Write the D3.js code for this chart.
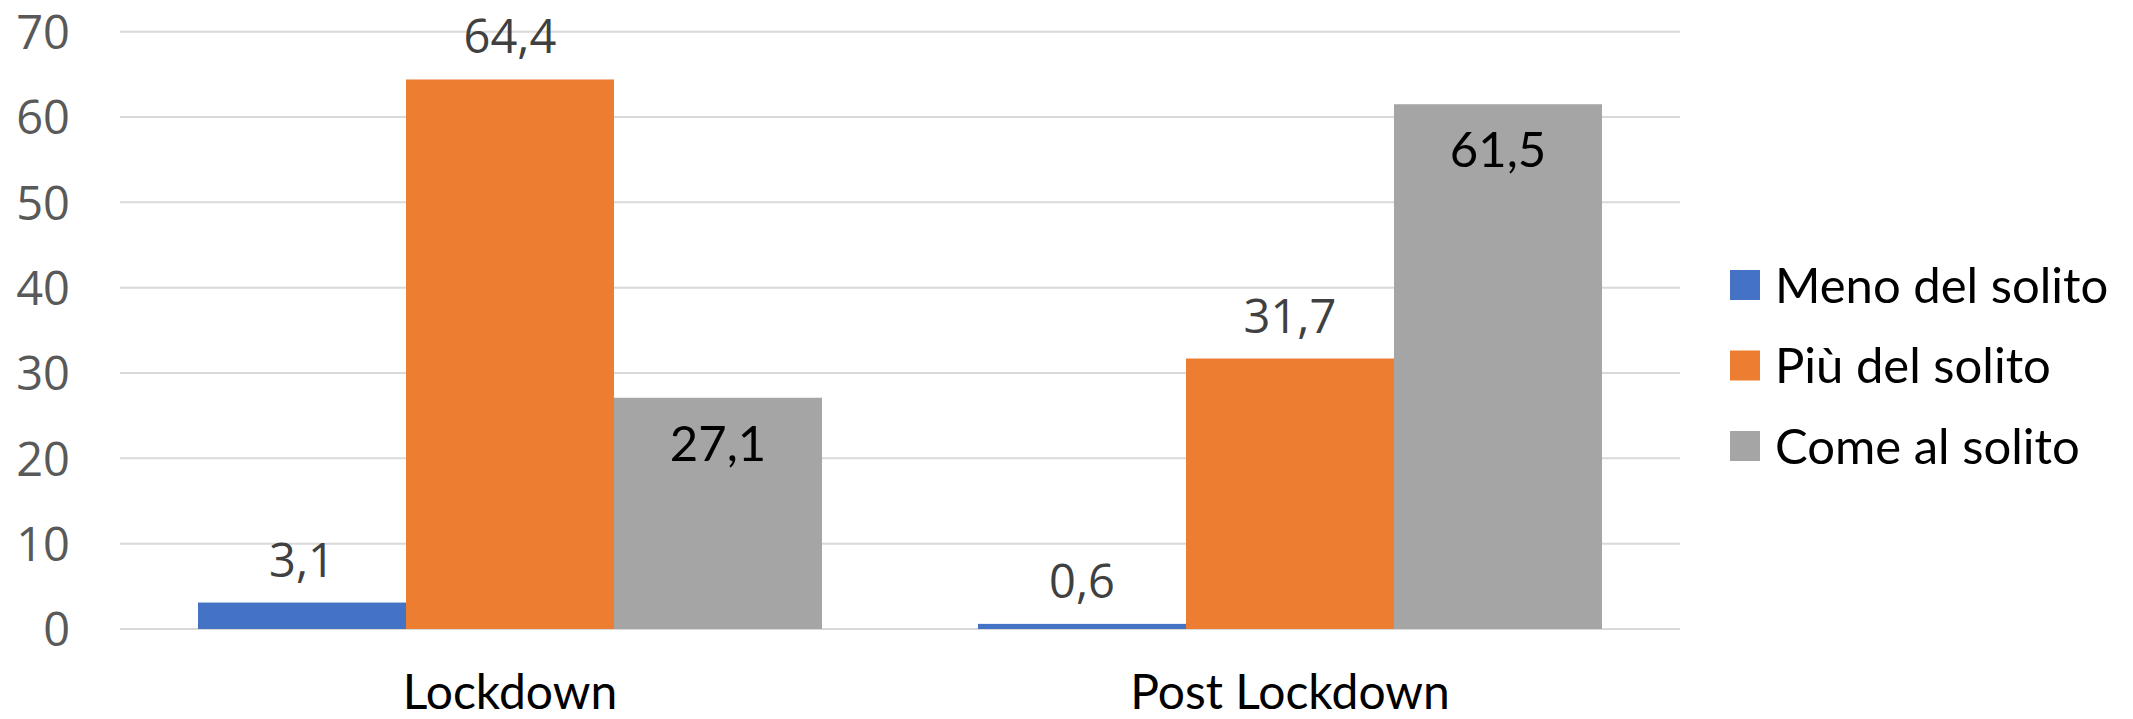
<!DOCTYPE html>
<html>
<head>
<meta charset="utf-8">
<script src="https://cdn.jsdelivr.net/npm/d3@7/dist/d3.min.js"></script>
<style>
  html, body { margin: 0; padding: 0; background: #ffffff; }
  svg { display: block; }
</style>
</head>
<body>
<svg id="chart" width="2133" height="719"></svg>
<script>
// Categories and series
const categories = ["Lockdown", "Post Lockdown"];
const seriesNames = ["Meno del solito", "Più del solito", "Come al solito"];
const seriesColors = ["#4472C4", "#ED7D31", "#A5A5A5"];
const menoValues = [3.1, 0.6];
const piuValues = [64.4, 31.7];
const comeValues = [27.1, 61.5];
const yTicks = [0, 10, 20, 30, 40, 50, 60, 70];

const seriesValues = [menoValues, piuValues, comeValues];
// Labels for the tallest bar in each group sit inside its top end
const insideLabel = [[false, false, true], [false, false, true]];

const svg = d3.select("#chart");
const plot = { left: 120, right: 1680, top: 31.7, bottom: 629 };

const x0 = d3.scaleBand()
  .domain(categories)
  .range([plot.left, plot.right])
  .paddingInner(0.2)
  .paddingOuter(0.1);

const x1 = d3.scaleBand()
  .domain(d3.range(seriesNames.length))
  .range([0, x0.bandwidth()])
  .padding(0);

const y = d3.scaleLinear()
  .domain([0, 70])
  .range([plot.bottom, plot.top]);

const fmt = v => d3.format(".1f")(v).replace(".", ",");

// Horizontal grid lines
svg.append("g")
  .selectAll("line")
  .data(yTicks)
  .join("line")
  .attr("x1", plot.left)
  .attr("x2", plot.right)
  .attr("y1", d => y(d))
  .attr("y2", d => y(d))
  .attr("stroke", "#d9d9d9")
  .attr("stroke-width", 2);

// Y axis labels
const yAxis = d3.axisLeft(y).tickValues(yTicks).tickSize(0).tickPadding(0);
const yg = svg.append("g")
  .attr("transform", "translate(70,0)")
  .call(yAxis);
yg.select(".domain").remove();
yg.selectAll("text")
  .attr("font-family", "'Open Sans', sans-serif")
  .attr("font-size", 47)
  .attr("fill", "#595959")
  .attr("dy", "0.36em");

// Bars
const rows = [];
categories.forEach((c, ci) => {
  seriesValues.forEach((vals, si) => {
    rows.push({ cat: c, ci, si, value: vals[ci] });
  });
});

const bars = svg.append("g");
bars.selectAll("rect")
  .data(rows)
  .join("rect")
  .attr("x", d => x0(d.cat) + x1(d.si))
  .attr("width", x1.bandwidth())
  .attr("y", d => y(d.value))
  .attr("height", d => y(0) - y(d.value))
  .attr("fill", d => seriesColors[d.si]);

// Value labels
svg.append("g")
  .selectAll("text")
  .data(rows)
  .join("text")
  .attr("x", d => x0(d.cat) + x1(d.si) + x1.bandwidth() / 2)
  .attr("y", d => insideLabel[d.ci][d.si] ? y(d.value) + 63 : y(d.value) - 26)
  .attr("text-anchor", "middle")
  .attr("font-family", d => insideLabel[d.ci][d.si] ? "Lato, sans-serif" : "'Open Sans', sans-serif")
  .attr("font-size", d => insideLabel[d.ci][d.si] ? 49 : 47)
  .attr("fill", d => insideLabel[d.ci][d.si] ? "#000000" : "#404040")
  .text(d => fmt(d.value));

// Category labels
const xAxis = d3.axisBottom(x0).tickSize(0).tickPadding(0);
const xg = svg.append("g")
  .attr("transform", "translate(0,709)")
  .call(xAxis);
xg.select(".domain").remove();
xg.selectAll("text")
  .attr("font-family", "Lato, sans-serif")
  .attr("font-size", 48)
  .attr("fill", "#000000")
  .attr("dy", 0)
  .attr("y", 0);

// Legend
const legend = svg.append("g");
const legendY = d3.scalePoint().domain(seriesNames).range([285, 446]);
const item = legend.selectAll("g")
  .data(seriesNames)
  .join("g")
  .attr("transform", d => `translate(1730,${legendY(d)})`);
item.append("rect")
  .attr("x", 0)
  .attr("y", -15)
  .attr("width", 30)
  .attr("height", 30)
  .attr("fill", (d, i) => seriesColors[i]);
item.append("text")
  .attr("x", 45)
  .attr("y", 0)
  .attr("dy", "0.36em")
  .attr("font-family", "Lato, sans-serif")
  .attr("font-size", 49)
  .attr("fill", "#000000")
  .text(d => d);
</script>
</body>
</html>
